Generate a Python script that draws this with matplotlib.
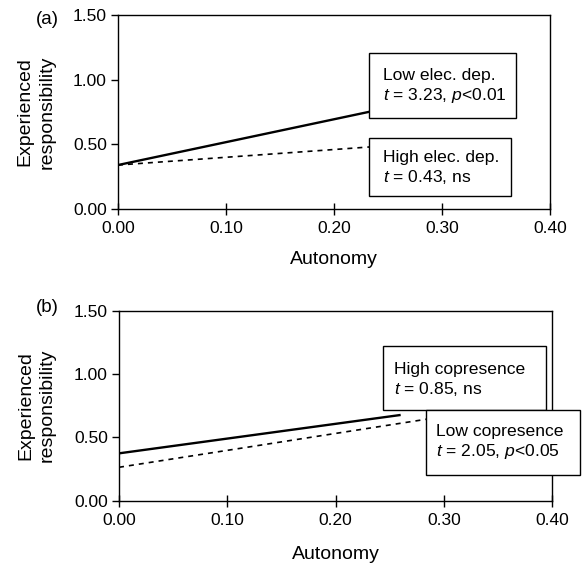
import matplotlib
matplotlib.use("Agg")
import matplotlib.pyplot as plt
from matplotlib.patches import Rectangle

params = {
    'font.family': 'Liberation Sans',
    'font.size': 12.6,
    'axes.labelsize': 14,
    'xtick.labelsize': 12.5,
    'ytick.labelsize': 12.5,
    'mathtext.fontset': 'custom',
    'mathtext.rm': 'Liberation Sans',
    'mathtext.it': 'Liberation Sans:italic',
    'axes.linewidth': 1.0,
}
plt.rcParams.update(params)

# simple slopes: autonomy endpoints and predicted responsibility
x_ticks = [0.00, 0.10, 0.20, 0.30, 0.40]
y_ticks = [0.00, 0.50, 1.00, 1.50]

a_low_x = [0.00, 0.26]
a_low_y = [0.34, 0.80]
a_high_x = [0.00, 0.30]
a_high_y = [0.34, 0.52]

b_high_x = [0.00, 0.26]
b_high_y = [0.374, 0.677]
b_low_x = [0.00, 0.30]
b_low_y = [0.264, 0.665]

a_labels = ["Low elec. dep.\n$t$ = 3.23, $p$<0.01", "High elec. dep.\n$t$ = 0.43, ns"]
b_labels = ["High copresence\n$t$ = 0.85, ns", "Low copresence\n$t$ = 2.05, $p$<0.05"]

fig = plt.figure(figsize=(5.82, 5.64), dpi=100)
ax_a = fig.add_axes([0.2027, 0.6294, 0.7423, 0.3440])
ax_b = fig.add_axes([0.2045, 0.1122, 0.7445, 0.3369])


def style_axes(ax, xlab_y):
    ax.set_xlim(0, 0.40)
    ax.set_ylim(0, 1.50)
    ax.set_xticks(x_ticks)
    ax.set_yticks(y_ticks)
    ax.set_xticklabels(["%.2f" % v for v in x_ticks])
    ax.set_yticklabels(["%.2f" % v for v in y_ticks])
    ax.tick_params(axis='x', direction='inout', length=9, width=1.0, pad=4)
    ax.tick_params(axis='y', direction='out', length=5, width=1.0, pad=3)
    ax.set_xlabel("Autonomy", va='center')
    ax.xaxis.set_label_coords(0.5, xlab_y)
    ax.set_ylabel("Experienced\nresponsibility", linespacing=1.35, va='center')
    ax.yaxis.set_label_coords(-0.19, 0.5)


def text_box(ax, x0, x1, y0, y1, tx, ty, label, z):
    rect = Rectangle((x0, y0), x1 - x0, y1 - y0, transform=ax.transAxes,
                     facecolor='white', edgecolor='black', linewidth=1.0,
                     clip_on=False, zorder=z)
    ax.add_patch(rect)
    ax.text(tx, ty, label, transform=ax.transAxes, ha='left', va='center',
            linespacing=1.25, zorder=z + 0.5, clip_on=False)


# panel (a)
style_axes(ax_a, -0.258)
ax_a.plot(a_low_x, a_low_y, color='black', lw=1.7, solid_capstyle='butt', zorder=2)
ax_a.plot(a_high_x, a_high_y, color='black', lw=1.2, dashes=(3, 3), zorder=2)
text_box(ax_a, 0.581, 0.921, 0.469, 0.806, 0.613, 0.632, a_labels[0], 5)
text_box(ax_a, 0.581, 0.909, 0.067, 0.3675, 0.613, 0.211, a_labels[1], 5)
fig.text(47 / 582, 1 - 19 / 564, "(a)", ha='center', va='center', fontsize=13.5)

# panel (b)
style_axes(ax_b, -0.283)
ax_b.plot(b_high_x, b_high_y, color='black', lw=1.7, solid_capstyle='butt', zorder=2)
ax_b.plot(b_low_x, b_low_y, color='black', lw=1.2, dashes=(3, 3), zorder=2)
text_box(ax_b, 0.6086, 0.9848, 0.477, 0.814, 0.6345, 0.636, b_labels[0], 5)
text_box(ax_b, 0.7085, 1.064, 0.135, 0.477, 0.7316, 0.307, b_labels[1], 7)
fig.text(47.5 / 582, 1 - 308 / 564, "(b)", ha='center', va='center', fontsize=13.5)

fig.savefig("out.png", dpi=100)
